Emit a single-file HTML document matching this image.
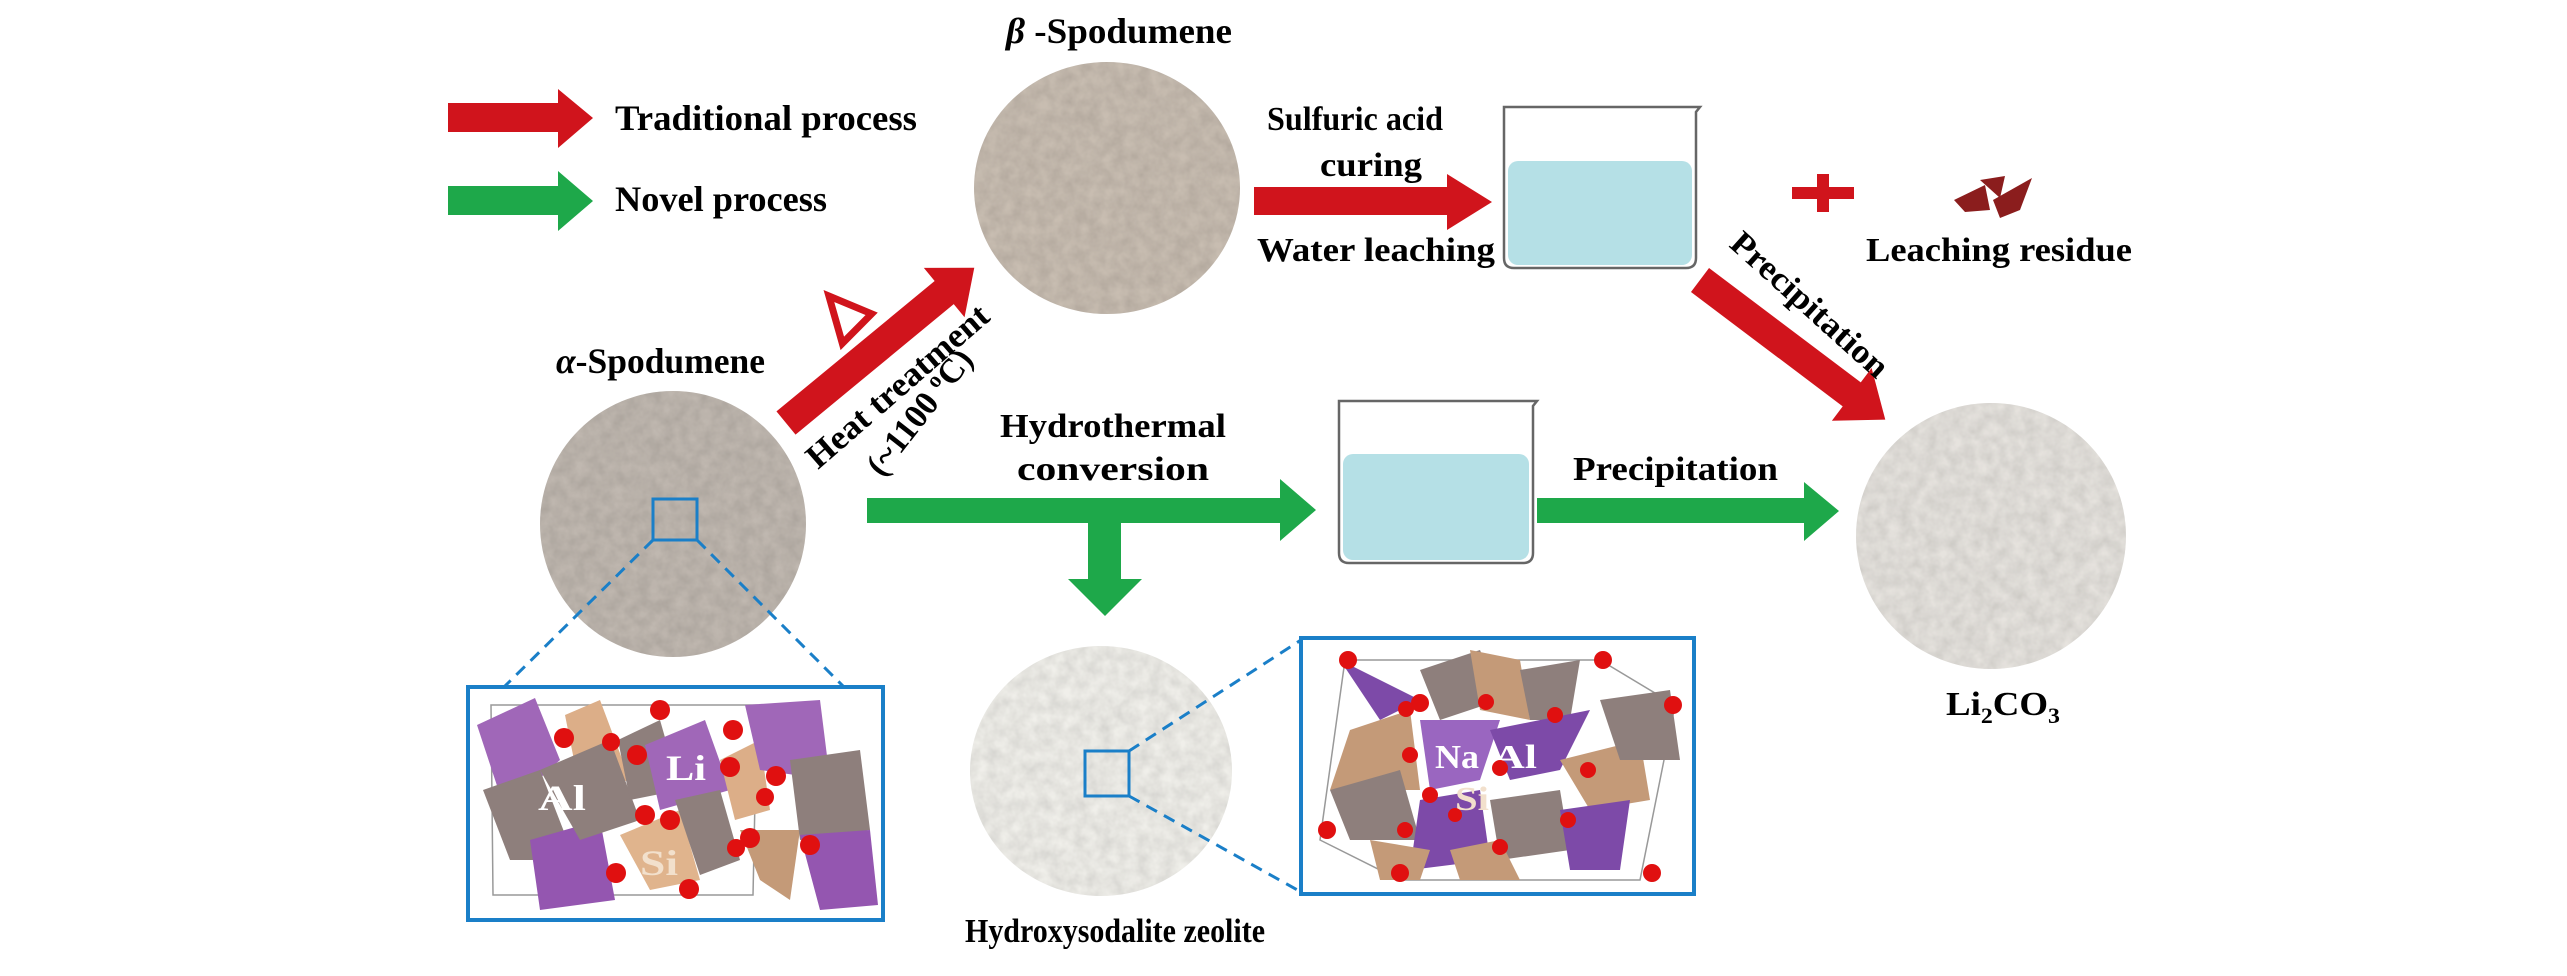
<!DOCTYPE html>
<html><head><meta charset="utf-8"><style>html,body{margin:0;padding:0;background:#fff}svg{display:block}</style></head>
<body>
<svg width="2567" height="976" viewBox="0 0 2567 976" xmlns="http://www.w3.org/2000/svg" font-family="'Liberation Serif',serif" font-weight="bold">
<defs>
<filter id="grain" x="0" y="0" width="100%" height="100%">
<feTurbulence type="fractalNoise" baseFrequency="0.08" numOctaves="3" seed="3"/>
<feColorMatrix type="matrix" values="0 0 0 0 0  0 0 0 0 0  0 0 0 0 0  0 0 0 0.3 -0.05"/>
<feComposite in2="SourceGraphic" operator="in"/>
<feBlend in="SourceGraphic" mode="multiply"/>
</filter>
</defs>

<!-- legend -->
<polygon points="448,103 558,103 558,89 593,118 558,148 558,132 448,132" fill="#d0141c"/>
<text x="615" y="130" font-size="36" textLength="302" lengthAdjust="spacingAndGlyphs">Traditional process</text>
<polygon points="448,186 558,186 558,171 593,201 558,231 558,215 448,215" fill="#1ea84a"/>
<text x="615" y="211" font-size="36" textLength="212" lengthAdjust="spacingAndGlyphs">Novel process</text>

<!-- beta spodumene -->
<text x="1006" y="43" font-size="36" textLength="226" lengthAdjust="spacingAndGlyphs"><tspan font-style="italic">β</tspan> -Spodumene</text>
<ellipse cx="1107" cy="188" rx="133" ry="126" fill="#c8bdb1" filter="url(#grain)"/>

<!-- heat arrow -->
<g transform="translate(786,423) rotate(-39.5)">
<polygon points="0,-15 205,-15 205,-32 244,0 205,32 205,15 0,15" fill="#d0141c"/>
</g>
<polygon points="833,293 872,318 838,342" fill="none" stroke="#d0141c" stroke-width="7" transform="rotate(-10 848 318)"/>
<text font-size="34" transform="translate(818,470) rotate(-41)" textLength="230" lengthAdjust="spacingAndGlyphs">Heat treatment</text>
<text font-size="34" transform="translate(882,478) rotate(-52)" textLength="150" lengthAdjust="spacingAndGlyphs">(~1100 <tspan font-size="22" dy="-12">o</tspan><tspan dy="12">C)</tspan></text>

<!-- alpha spodumene -->
<text x="556" y="373" font-size="36" textLength="209" lengthAdjust="spacingAndGlyphs"><tspan font-style="italic">α</tspan>-Spodumene</text>
<ellipse cx="673" cy="524" rx="133" ry="133" fill="#c0b8b0" filter="url(#grain)"/>
<rect x="653" y="499" width="44" height="41" fill="none" stroke="#1a7fc8" stroke-width="3"/>
<line x1="653" y1="540" x2="503" y2="688" stroke="#1a7fc8" stroke-width="3" stroke-dasharray="12,8"/>
<line x1="697" y1="540" x2="845" y2="688" stroke="#1a7fc8" stroke-width="3" stroke-dasharray="12,8"/>

<!-- spodumene structure -->
<g>
<rect x="468" y="687" width="415" height="233" fill="#fff" stroke="#1a7fc8" stroke-width="4"/>
<polygon points="491,705 757,705 753,895 493,895" fill="none" stroke="#999" stroke-width="1.5"/>
<polygon points="477,725 535,698 560,760 505,810" fill="#a067b8"/>
<polygon points="483,790 540,770 575,860 510,860" fill="#8e7f7c"/>
<polygon points="530,840 600,820 615,900 540,910" fill="#9456b0"/>
<polygon points="565,715 600,700 630,780 580,790" fill="#dcae88"/>
<polygon points="540,770 610,740 640,820 580,840" fill="#8e7f7c"/>
<polygon points="618,740 660,720 680,790 630,800" fill="#8e7f7c"/>
<polygon points="645,745 705,720 730,790 660,810" fill="#a067b8"/>
<polygon points="620,835 680,810 700,880 650,890" fill="#e0b48d"/>
<polygon points="675,800 720,790 740,860 700,875" fill="#8e7f7c"/>
<polygon points="720,760 760,740 770,810 735,820" fill="#dcae88"/>
<polygon points="740,830 800,830 790,900 760,880" fill="#c49a78"/>
<polygon points="745,705 820,700 830,780 760,770" fill="#a067b8"/>
<polygon points="790,760 860,750 870,830 800,840" fill="#8e7f7c"/>
<polygon points="800,835 870,830 878,905 820,910" fill="#9456b0"/>
<text x="538" y="810" font-size="36" fill="#fff" textLength="48" lengthAdjust="spacingAndGlyphs">Al</text>
<text x="666" y="780" font-size="36" fill="#fff" textLength="40" lengthAdjust="spacingAndGlyphs">Li</text>
<text x="640" y="875" font-size="36" fill="#f2e0cc" textLength="38" lengthAdjust="spacingAndGlyphs">Si</text>
<g fill="#e01010">
<circle cx="564" cy="738" r="10"/><circle cx="611" cy="742" r="9"/><circle cx="660" cy="710" r="10"/>
<circle cx="637" cy="755" r="10"/><circle cx="733" cy="730" r="10"/><circle cx="730" cy="767" r="10"/>
<circle cx="776" cy="776" r="10"/><circle cx="765" cy="797" r="9"/><circle cx="645" cy="815" r="10"/>
<circle cx="670" cy="820" r="10"/><circle cx="750" cy="838" r="10"/><circle cx="736" cy="848" r="9"/>
<circle cx="810" cy="845" r="10"/><circle cx="616" cy="873" r="10"/><circle cx="689" cy="889" r="10"/>
</g>
</g>

<!-- top red arrow + labels -->
<polygon points="1254,187 1447,187 1447,174 1492,202 1447,230 1447,215 1254,215" fill="#d0141c"/>
<text x="1355" y="130" font-size="34" text-anchor="middle" textLength="176" lengthAdjust="spacingAndGlyphs">Sulfuric acid</text>
<text x="1371" y="176" font-size="34" text-anchor="middle" textLength="102" lengthAdjust="spacingAndGlyphs">curing</text>
<text x="1376" y="261" font-size="34" text-anchor="middle" textLength="238" lengthAdjust="spacingAndGlyphs">Water leaching</text>

<!-- beaker 1 -->
<rect x="1508" y="161" width="184" height="104" rx="10" fill="#b5e0e6"/>
<path d="M1504,107 L1504,258 Q1504,268 1514,268 L1686,268 Q1696,268 1696,258 L1696,112 L1700,107 Z" fill="none" stroke="#666" stroke-width="2.5"/>

<!-- plus + residue -->
<rect x="1792" y="187" width="62" height="12" fill="#d0141c"/>
<rect x="1817" y="174" width="12" height="38" fill="#d0141c"/>
<polygon points="1954,200 1985,185 1990,210 1965,212" fill="#8b1d1d"/>
<polygon points="1980,180 2005,176 2000,198" fill="#8b1d1d"/>
<polygon points="1993,200 2032,178 2020,210 2000,218" fill="#8b1d1d"/>
<text x="1866" y="261" font-size="34" textLength="266" lengthAdjust="spacingAndGlyphs">Leaching residue</text>

<!-- precipitation red diagonal -->
<g transform="translate(1700,280) rotate(37)">
<polygon points="0,-15 190,-15 190,-33 232,0 190,33 190,15 0,15" fill="#d0141c"/>
</g>
<text font-size="34" transform="translate(1728,246) rotate(42)" textLength="200" lengthAdjust="spacingAndGlyphs">Precipitation</text>

<!-- hydrothermal green -->
<text x="1113" y="437" font-size="34" text-anchor="middle" textLength="226" lengthAdjust="spacingAndGlyphs">Hydrothermal</text>
<text x="1113" y="480" font-size="34" text-anchor="middle" textLength="192" lengthAdjust="spacingAndGlyphs">conversion</text>
<polygon points="867,498 1280,498 1280,479 1316,510 1280,541 1280,523 867,523" fill="#1ea84a"/>
<polygon points="1088,523 1121,523 1121,579 1142,579 1105,616 1068,579 1088,579" fill="#1ea84a"/>

<!-- beaker 2 -->
<rect x="1343" y="454" width="186" height="106" rx="10" fill="#b5e0e6"/>
<path d="M1339,401 L1339,553 Q1339,563 1349,563 L1523,563 Q1533,563 1533,553 L1533,406 L1537,401 Z" fill="none" stroke="#666" stroke-width="2.5"/>

<text x="1573" y="480" font-size="34" textLength="205" lengthAdjust="spacingAndGlyphs">Precipitation</text>
<polygon points="1537,498 1804,498 1804,482 1839,511 1804,541 1804,523 1537,523" fill="#1ea84a"/>

<!-- Li2CO3 -->
<ellipse cx="1991" cy="536" rx="135" ry="133" fill="#e6e3de" filter="url(#grain)"/>
<text x="1946" y="715" font-size="34" textLength="114" lengthAdjust="spacingAndGlyphs">Li<tspan font-size="22" dy="8">2</tspan><tspan dy="-8">CO</tspan><tspan font-size="22" dy="8">3</tspan></text>

<!-- hydroxysodalite -->
<ellipse cx="1101" cy="771" rx="131" ry="125" fill="#f0efea" filter="url(#grain)"/>
<rect x="1085" y="751" width="44" height="45" fill="none" stroke="#1a7fc8" stroke-width="3"/>
<line x1="1129" y1="751" x2="1301" y2="640" stroke="#1a7fc8" stroke-width="3" stroke-dasharray="12,8"/>
<line x1="1129" y1="796" x2="1301" y2="892" stroke="#1a7fc8" stroke-width="3" stroke-dasharray="12,8"/>
<text x="1115" y="942" font-size="34" text-anchor="middle" textLength="300" lengthAdjust="spacingAndGlyphs">Hydroxysodalite zeolite</text>

<!-- zeolite structure -->
<g>
<rect x="1301" y="638" width="393" height="256" fill="#fff" stroke="#1a7fc8" stroke-width="4"/>
<polygon points="1345,660 1600,660 1675,705 1640,880 1400,880 1320,840" fill="none" stroke="#999" stroke-width="1.5"/>
<polygon points="1340,660 1420,700 1380,720" fill="#7d4aa8"/>
<polygon points="1420,670 1480,650 1500,700 1440,720" fill="#8e7f7c"/>
<polygon points="1470,650 1520,660 1530,720 1480,710" fill="#c49a78"/>
<polygon points="1520,670 1580,660 1570,720 1530,720" fill="#8e7f7c"/>
<polygon points="1350,730 1410,710 1420,790 1330,790" fill="#c49a78"/>
<polygon points="1330,790 1400,770 1420,840 1350,840" fill="#8e7f7c"/>
<polygon points="1420,720 1500,720 1480,780 1430,790" fill="#9a66c0"/>
<polygon points="1490,730 1590,710 1560,770 1510,780" fill="#7d4aa8"/>
<polygon points="1560,760 1640,740 1650,800 1590,810" fill="#c49a78"/>
<polygon points="1600,700 1670,690 1680,760 1620,760" fill="#8e7f7c"/>
<polygon points="1420,800 1480,790 1490,860 1410,870" fill="#7d4aa8"/>
<polygon points="1490,800 1560,790 1570,850 1500,860" fill="#8e7f7c"/>
<polygon points="1560,810 1630,800 1620,870 1570,870" fill="#7d4aa8"/>
<polygon points="1370,840 1430,850 1420,880 1380,880" fill="#c49a78"/>
<polygon points="1450,850 1500,840 1520,880 1460,880" fill="#c49a78"/>
<text x="1435" y="768" font-size="34" fill="#fff" textLength="44" lengthAdjust="spacingAndGlyphs">Na</text>
<text x="1493" y="768" font-size="34" fill="#fff" textLength="44" lengthAdjust="spacingAndGlyphs">Al</text>
<text x="1455" y="810" font-size="34" fill="#f2e0cc" textLength="34" lengthAdjust="spacingAndGlyphs">Si</text>
<g fill="#e01010">
<circle cx="1348" cy="660" r="9"/><circle cx="1603" cy="660" r="9"/><circle cx="1673" cy="705" r="9"/>
<circle cx="1420" cy="703" r="9"/><circle cx="1406" cy="709" r="8"/><circle cx="1486" cy="702" r="8"/>
<circle cx="1555" cy="715" r="8"/><circle cx="1410" cy="755" r="8"/><circle cx="1500" cy="768" r="8"/>
<circle cx="1430" cy="795" r="8"/><circle cx="1588" cy="770" r="8"/><circle cx="1327" cy="830" r="9"/>
<circle cx="1405" cy="830" r="8"/><circle cx="1500" cy="847" r="8"/><circle cx="1568" cy="820" r="8"/>
<circle cx="1400" cy="873" r="9"/><circle cx="1652" cy="873" r="9"/><circle cx="1455" cy="815" r="7"/>
</g>
</g>
</svg>
</body></html>
